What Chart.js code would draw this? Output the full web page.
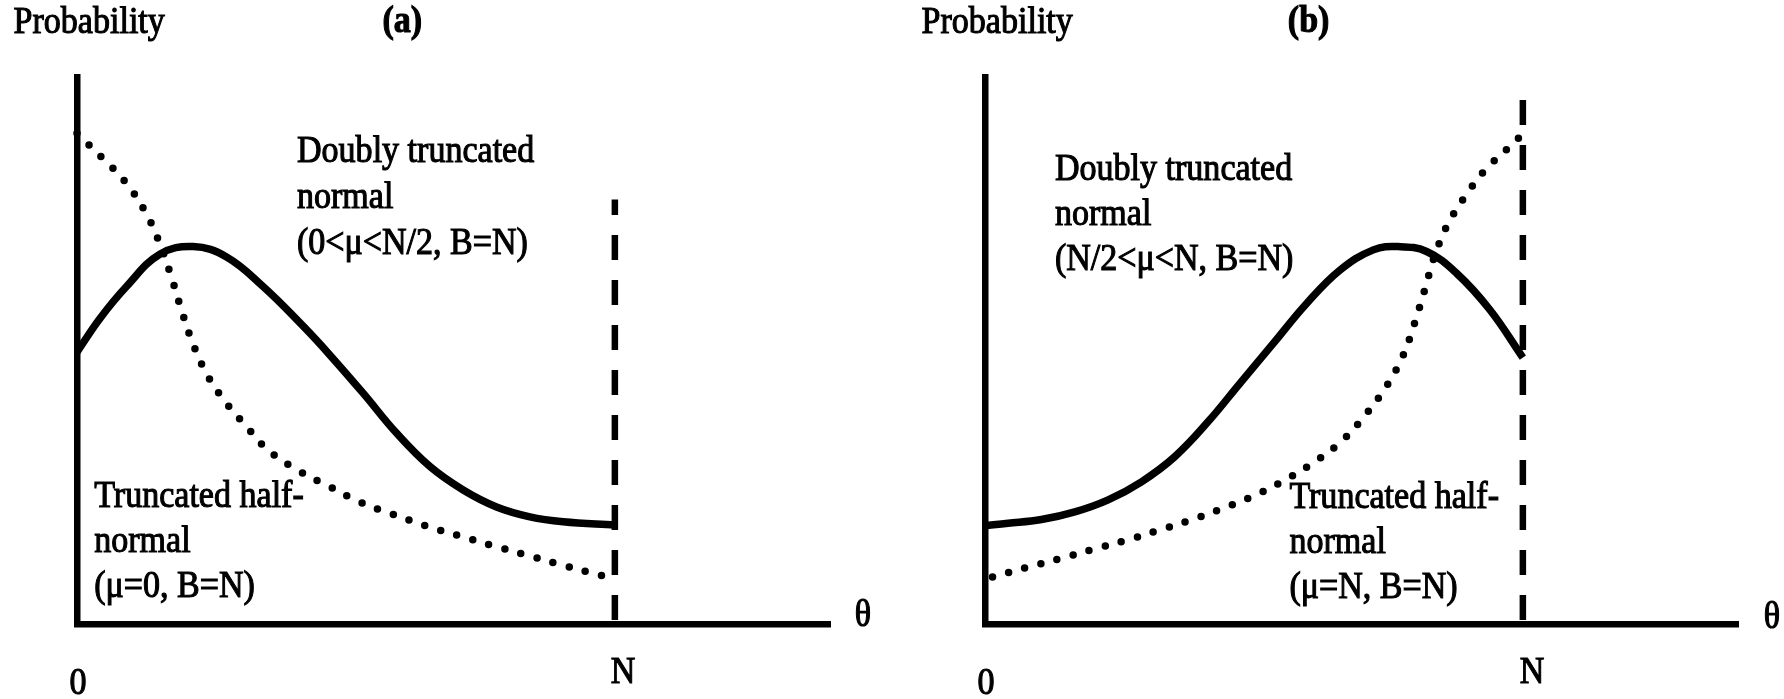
<!DOCTYPE html>
<html>
<head>
<meta charset="utf-8">
<script src="https://cdn.jsdelivr.net/npm/chart.js@4.4.1/dist/chart.umd.min.js"></script>
<style>
  html, body { margin: 0; padding: 0; background: #fff; }
  .wrap { position: relative; width: 1784px; height: 699px; }
  canvas { position: absolute; top: 0; }
  #chartA { left: 0; }
  #chartB { left: 892px; }
</style>
</head>
<body>
<div class="wrap">
  <canvas id="chartA" width="892" height="699"></canvas>
  <canvas id="chartB" width="892" height="699"></canvas>
</div>
<script>
// theta is measured in units of N, probability in arbitrary units (0..1 = axis height)
const N_VALUE = 1;
const THETA_MAX = 1.4;
const tickLabels = ['0', 'N'];

// (a) doubly truncated normal, 0 < mu < N/2
const aSolidX = [0, 0.043, 0.092, 0.154, 0.216, 0.278, 0.346, 0.421, 0.470, 0.532, 0.594, 0.656, 0.718, 0.780, 0.842, 0.904, 1.0];
const aSolidY = [0.497, 0.559, 0.617, 0.676, 0.690, 0.671, 0.617, 0.544, 0.492, 0.422, 0.349, 0.288, 0.245, 0.214, 0.196, 0.187, 0.181];

// (a) truncated half-normal, mu = 0
const aDotX = [0, 0.046, 0.090, 0.126, 0.153, 0.174, 0.193, 0.213, 0.239, 0.272, 0.316, 0.355, 0.409, 0.470, 0.526, 0.586, 0.647, 0.708, 0.770, 0.832, 0.893, 0.955, 0.986];
const aDotY = [0.897, 0.853, 0.808, 0.755, 0.698, 0.639, 0.578, 0.519, 0.461, 0.411, 0.360, 0.318, 0.282, 0.251, 0.223, 0.201, 0.180, 0.162, 0.144, 0.127, 0.110, 0.094, 0.086];

// (b) doubly truncated normal, N/2 < mu < N
const bSolidX = [0, 0.043, 0.105, 0.167, 0.229, 0.291, 0.353, 0.415, 0.474, 0.536, 0.598, 0.660, 0.722, 0.768, 0.821, 0.877, 0.939, 1.0];
const bSolidY = [0.180, 0.184, 0.191, 0.205, 0.227, 0.260, 0.306, 0.370, 0.440, 0.513, 0.586, 0.647, 0.684, 0.690, 0.681, 0.641, 0.574, 0.487];

// (b) truncated half-normal, mu = N
const bDotX = [0.014, 0.076, 0.138, 0.199, 0.262, 0.322, 0.383, 0.444, 0.504, 0.561, 0.615, 0.665, 0.708, 0.746, 0.777, 0.798, 0.817, 0.835, 0.859, 0.892, 0.931, 0.977, 1.0];
const bDotY = [0.086, 0.103, 0.119, 0.136, 0.153, 0.171, 0.190, 0.212, 0.236, 0.265, 0.298, 0.336, 0.383, 0.434, 0.490, 0.548, 0.609, 0.670, 0.728, 0.781, 0.831, 0.874, 0.896];

// height of the dashed bound line at theta = N
const aBoundTop = 0.776;
const bBoundTop = 0.964;

const FONT_FAMILY = '"Liberation Serif", "Times New Roman", serif';

const zip = (xs, ys) => xs.map((x, i) => ({ x: x, y: ys[i] }));

const textPlugin = {
    id: 'figText',
    afterDraw(chart, args, opts) {
        const ctx = chart.ctx;
        const xs = chart.scales.x;
        const ys = chart.scales.y;
        ctx.save();
        ctx.fillStyle = '#000';
        ctx.strokeStyle = '#000';
        ctx.lineWidth = 1.1;
        ctx.textBaseline = 'alphabetic';
        opts.labels.forEach(l => {
            ctx.save();
            ctx.font = (l.bold ? 'bold ' : '') + '37px ' + FONT_FAMILY;
            ctx.textAlign = l.align || 'left';
            ctx.translate(xs.getPixelForValue(l.x), ys.getPixelForValue(l.y));
            ctx.scale(0.92, 1);
            ctx.fillText(l.text, 0, 0);
            ctx.strokeText(l.text, 0, 0);
            ctx.restore();
        });
        ctx.restore();
    }
};

const makeChart = (el, cfg) => {
    const datasets = [
        {
            data: zip(cfg.solidX, cfg.solidY),
            borderColor: '#000',
            borderWidth: 7.5,
            tension: 0.4,
            borderCapStyle: 'butt'
        },
        {
            data: zip(cfg.dotX, cfg.dotY),
            borderColor: '#000',
            borderWidth: 7.5,
            borderDash: [0, 16.7],
            borderCapStyle: 'round',
            tension: 0.4
        },
        {
            data: [{ x: N_VALUE, y: 0 }, { x: N_VALUE, y: cfg.boundTop }],
            borderColor: '#000',
            borderWidth: 6.5,
            borderDash: [25, 20],
            borderDashOffset: 41
        }
    ].map(d => Object.assign({ showLine: true, pointRadius: 0, fill: false, clip: false }, d));

    return new Chart(el, {
        type: 'scatter',
        data: { datasets: datasets },
        options: {
            responsive: false,
            animation: false,
            devicePixelRatio: 1,
            layout: { padding: cfg.padding },
            plugins: {
                legend: { display: false },
                tooltip: { enabled: false },
                figText: { labels: cfg.labels }
            },
            scales: {
                x: {
                    type: 'linear',
                    min: 0,
                    max: THETA_MAX,
                    grid: { display: false },
                    ticks: { display: false },
                    border: { display: true, color: '#000', width: 6.5 },
                    afterFit: s => { s.height = 0; }
                },
                y: {
                    type: 'linear',
                    min: 0,
                    max: 1,
                    grid: { display: false },
                    ticks: { display: false },
                    border: { display: true, color: '#000', width: 6.5 },
                    afterFit: s => { s.width = 0; }
                }
            }
        },
        plugins: [textPlugin]
    });
};

makeChart(document.getElementById('chartA'), {
    solidX: aSolidX, solidY: aSolidY,
    dotX: aDotX, dotY: aDotY,
    boundTop: aBoundTop,
    padding: { left: 77, right: 62, top: 77, bottom: 75 },
    labels: [
        { text: 'Probability', x: -0.118, y: 1.081 },
        { text: '(a)', x: 0.568, y: 1.083, bold: true },
        { text: 'Doubly truncated', x: 0.409, y: 0.844 },
        { text: 'normal', x: 0.409, y: 0.760 },
        { text: '(0<\u03bc<N/2, B=N)', x: 0.409, y: 0.677 },
        { text: 'Truncated half-', x: 0.032, y: 0.213 },
        { text: 'normal', x: 0.032, y: 0.132 },
        { text: '(\u03bc=0, B=N)', x: 0.032, y: 0.050 },
        { text: '\u03b8', x: 1.446, y: -0.004 },
        { text: tickLabels[0], x: 0.002, y: -0.128, align: 'center' },
        { text: tickLabels[1], x: 1.015, y: -0.108, align: 'center' }
    ]
});

makeChart(document.getElementById('chartB'), {
    solidX: bSolidX, solidY: bSolidY,
    dotX: bDotX, dotY: bDotY,
    boundTop: bBoundTop,
    padding: { left: 93, right: 46, top: 77, bottom: 75 },
    labels: [
        { text: 'Probability', x: -0.118, y: 1.081 },
        { text: '(b)', x: 0.563, y: 1.083, bold: true },
        { text: 'Doubly truncated', x: 0.130, y: 0.812 },
        { text: 'normal', x: 0.130, y: 0.729 },
        { text: '(N/2<\u03bc<N, B=N)', x: 0.130, y: 0.647 },
        { text: 'Truncated half-', x: 0.566, y: 0.2115 },
        { text: 'normal', x: 0.566, y: 0.129 },
        { text: '(\u03bc=N, B=N)', x: 0.566, y: 0.047 },
        { text: '\u03b8', x: 1.448, y: -0.007 },
        { text: tickLabels[0], x: 0.002, y: -0.128, align: 'center' },
        { text: tickLabels[1], x: 1.017, y: -0.108, align: 'center' }
    ]
});
</script>
</body>
</html>
